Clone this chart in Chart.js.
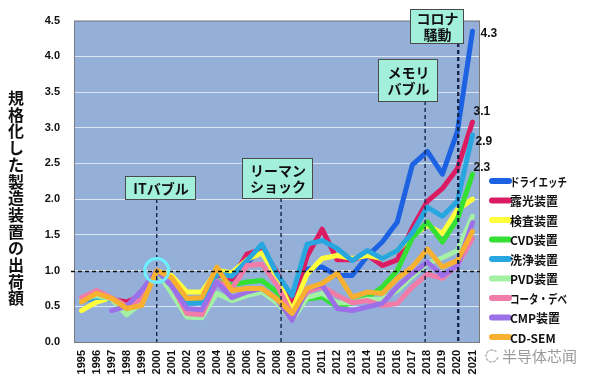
<!DOCTYPE html>
<html><head><meta charset="utf-8">
<script src="https://cdn.jsdelivr.net/npm/chart.js@4"></script>
<style>html,body{margin:0;padding:0;background:#fff}canvas{display:block}</style>
</head><body>
<canvas id="c" width="590" height="382"></canvas>
<script>
const years = ['1995','1996','1997','1998','1999','2000','2001','2002','2003','2004','2005','2006','2007','2008','2009','2010','2011','2012','2013','2014','2015','2016','2017','2018','2019','2020','2021'];
const dryEtch    = [0.58,0.62,0.60,0.50,0.62,1.00,0.82,0.57,0.58,0.95,0.88,1.10,1.32,0.95,0.50,1.02,1.05,0.93,0.93,1.20,1.40,1.68,2.48,2.67,2.35,2.95,4.35];
const exposure   = [0.60,0.66,0.60,0.56,0.65,1.00,0.85,0.60,0.60,0.95,0.88,1.23,1.30,0.98,0.50,1.20,1.58,1.15,1.15,1.22,1.07,1.15,1.60,1.97,2.15,2.43,3.08];
const inspection = [0.44,0.56,0.62,0.50,0.60,1.00,0.93,0.70,0.70,1.00,0.97,1.15,1.25,0.90,0.44,0.95,1.17,1.21,1.17,1.21,1.17,1.28,1.49,1.63,1.52,1.85,2.00];
const cvd        = [0.60,0.65,0.62,0.45,0.60,1.00,0.80,0.57,0.55,0.85,0.80,0.84,0.86,0.70,0.38,0.60,0.63,0.49,0.55,0.62,0.77,1.00,1.46,1.68,1.40,1.72,2.35];
const cleaning   = [0.57,0.63,0.62,0.50,0.62,1.00,0.85,0.54,0.55,0.96,0.92,1.14,1.37,0.95,0.65,1.37,1.42,1.31,1.14,1.28,1.17,1.28,1.53,1.89,1.76,1.97,2.90];
const pvd        = [0.60,0.65,0.60,0.38,0.55,1.00,0.68,0.35,0.34,0.68,0.58,0.65,0.70,0.55,0.30,0.62,0.68,0.55,0.55,0.60,0.60,0.72,0.92,1.10,1.18,1.28,1.76];
const coater     = [0.62,0.72,0.62,0.50,0.60,1.00,0.80,0.40,0.38,0.85,0.75,1.07,1.09,0.80,0.38,0.70,0.78,0.65,0.55,0.58,0.51,0.54,0.77,0.95,0.89,1.08,1.45];
const cmp        = [null,null,0.44,0.50,0.72,1.00,0.78,0.47,0.45,0.84,0.62,0.70,0.75,0.60,0.30,0.75,0.80,0.47,0.44,0.49,0.54,0.77,0.96,1.12,0.93,1.07,1.67];
const cdsem      = [0.56,0.68,0.61,0.47,0.51,1.00,0.90,0.61,0.62,1.05,0.72,0.75,0.75,0.60,0.40,0.75,0.82,0.96,0.63,0.70,0.68,0.89,1.05,1.30,1.05,1.14,1.55];

const seriesNames  = ['ドライエッチ','露光装置','検査装置','CVD装置','洗浄装置','PVD装置','コータ・デベ','CMP装置','CD-SEM'];
const seriesValues = [dryEtch, exposure, inspection, cvd, cleaning, pvd, coater, cmp, cdsem];
const seriesColors = ['#1c62e2','#dc1c62','#ffff3c','#33e033','#28a6e0','#a4f0a4','#f27ca8','#9c70e8','#f8b030'];

const yAxisTitle = '規格化した製造装置の出荷額';
const endLabels = [{series:0, text:'4.3', dx:8, dy:2}, {series:1, text:'3.1', dx:1, dy:-10}, {series:4, text:'2.9', dx:3, dy:7}, {series:3, text:'2.3', dx:1, dy:-6}];
const events = [
  {lines:['ITバブル'], year:'2000', shift:0, box:[125,176,70,23], lw:1.4},
  {lines:['リーマン','ショック'], year:'2008', shift:0.27, box:[242,158,70,40], lw:1.4},
  {lines:['メモリ','バブル'], year:'2018', shift:-0.15, box:[378,59,59,42], lw:1.4},
  {lines:['コロナ','騒動'], year:'2020', shift:0.05, box:[410,9,53,34], lw:2.4}
];
const baseYear = '2000', baseValue = 1.0;
const watermark = '半导体芯闻';

const JP = '"Noto Sans CJK JP"';

const deco = {
  id: 'deco',
  beforeDraw(chart) {
    const {ctx, chartArea: a} = chart;
    ctx.save();
    ctx.fillStyle = '#fff';
    ctx.fillRect(0, 0, chart.width, chart.height);
    ctx.fillStyle = '#94b0d8';
    ctx.fillRect(a.left, a.top, a.right - a.left, a.bottom - a.top);
    ctx.restore();
  },
  beforeDatasetsDraw(chart) {
    const {ctx, chartArea: a} = chart;
    ctx.save();
    ctx.strokeStyle = '#7a7a7a';
    ctx.lineWidth = 1;
    ctx.strokeRect(a.left + 0.5, a.top + 0.5, a.right - a.left - 1, a.bottom - a.top);
    ctx.restore();
  },
  afterDatasetsDraw(chart) {
    const {ctx, chartArea: a, scales: {x, y}} = chart;
    ctx.save();
    // horizontal dashed line at base value
    const yb = Math.round(y.getPixelForValue(baseValue)) + 0.5;
    ctx.setLineDash([4, 3]);
    ctx.strokeStyle = '#111';
    ctx.lineWidth = 1.3;
    ctx.beginPath(); ctx.moveTo(a.left - 3, yb); ctx.lineTo(a.right, yb); ctx.stroke();
    // event lines and boxes
    events.forEach(ev => {
      const i = years.indexOf(ev.year) + ev.shift;
      const px = x.getPixelForValue(years.indexOf(ev.year)) + ev.shift * (x.getPixelForValue(1) - x.getPixelForValue(0));
      const [bx, by, bw, bh] = ev.box;
      ctx.setLineDash([4, 3]);
      ctx.strokeStyle = '#16264a';
      ctx.lineWidth = ev.lw;
      ctx.beginPath(); ctx.moveTo(px, by + bh); ctx.lineTo(px, a.bottom); ctx.stroke();
      ctx.setLineDash([]);
      ctx.fillStyle = '#a2f0dc';
      ctx.fillRect(bx, by, bw, bh);
      ctx.strokeStyle = '#4a4a4a';
      ctx.lineWidth = 1;
      ctx.strokeRect(bx + 0.5, by + 0.5, bw, bh);
      ctx.fillStyle = '#111';
      ctx.font = 'bold 14px ' + JP;
      ctx.textAlign = 'center';
      ctx.textBaseline = 'middle';
      const n = ev.lines.length;
      ev.lines.forEach((t, k) => {
        const ty = by + bh / 2 + (k - (n - 1) / 2) * 16 + 1;
        ctx.fillText(t, bx + bw / 2 + 1, ty, bw - 10);
      });
    });
    // circle at base point
    ctx.setLineDash([]);
    ctx.strokeStyle = '#6cf0ff';
    ctx.lineWidth = 3;
    ctx.beginPath();
    ctx.arc(x.getPixelForValue(years.indexOf(baseYear)), y.getPixelForValue(baseValue), 12, 0, Math.PI * 2);
    ctx.stroke();
    // end labels
    ctx.fillStyle = '#111';
    ctx.font = 'bold 12px "Liberation Sans"';
    ctx.textAlign = 'left';
    ctx.textBaseline = 'middle';
    endLabels.forEach(l => {
      const vals = seriesValues[l.series];
      const last = vals.length - 1;
      ctx.fillText(l.text, x.getPixelForValue(last) + l.dx, y.getPixelForValue(vals[last]) + l.dy);
    });
    ctx.restore();
  },
  afterDraw(chart) {
    const {ctx} = chart;
    ctx.save();
    // y axis title, stacked vertically
    ctx.fillStyle = '#111';
    ctx.font = 'bold 16px ' + JP;
    ctx.textAlign = 'center';
    ctx.textBaseline = 'middle';
    [...yAxisTitle].forEach((ch, k) => ctx.fillText(ch, 16, 98 + k * 16.7));
    // legend
    ctx.font = 'bold 12px ' + JP;
    ctx.textAlign = 'left';
    chart.data.datasets.forEach((ds, k) => {
      const ly = 181 + k * 19.5;
      ctx.strokeStyle = ds.borderColor;
      ctx.lineWidth = 6;
      ctx.lineCap = 'round';
      ctx.beginPath(); ctx.moveTo(492, ly); ctx.lineTo(509, ly); ctx.stroke();
      ctx.fillStyle = '#111';
      ctx.fillText(ds.label, 510, ly + 1, 57);
    });
    // watermark
    ctx.strokeStyle = '#b8b8b8';
    ctx.lineWidth = 1.5;
    ctx.setLineDash([2, 2]);
    ctx.beginPath(); ctx.arc(492, 356, 6, 0.3, Math.PI * 1.8); ctx.stroke();
    ctx.setLineDash([]);
    ctx.fillStyle = '#9a9a9a';
    ctx.font = '15px "Noto Sans CJK SC"';
    ctx.textBaseline = 'middle';
    ctx.fillText(watermark, 502, 356);
    ctx.restore();
  }
};

const datasets = seriesNames.map((name, k) => ({
  label: name,
  data: seriesValues[k],
  borderColor: seriesColors[k],
  backgroundColor: seriesColors[k],
  borderWidth: 5,
  pointRadius: 0,
  tension: 0,
  fill: false,
  spanGaps: false,
  borderJoinStyle: 'round',
  borderCapStyle: 'round',
  order: seriesNames.length - k
}));

new Chart(document.getElementById('c'), {
  type: 'line',
  data: {labels: years, datasets},
  options: {
    responsive: false,
    animation: false,
    devicePixelRatio: 1,
    layout: {padding: {top: 18, right: 110, bottom: 0, left: 0}},
    plugins: {legend: {display: false}, tooltip: {enabled: false}},
    scales: {
      x: {
        offset: true,
        grid: {display: false, drawTicks: false},
        border: {display: false},
        ticks: {
          autoSkip: false, maxRotation: 90, minRotation: 90, padding: 8,
          color: '#111', font: {family: '"Liberation Sans"', size: 11, weight: 'bold'}
        },
        afterFit(s) { s.height = 40; }
      },
      y: {
        min: 0, max: 4.5,
        grid: {color: '#dce6f2', lineWidth: 1, drawTicks: false},
        border: {display: false},
        ticks: {
          stepSize: 0.5, padding: 14,
          color: '#111', font: {family: '"Liberation Sans"', size: 11, weight: 'bold'},
          callback: v => Number(v).toFixed(1)
        },
        afterFit(s) { s.width = 74; }
      }
    }
  },
  plugins: [deco]
});
</script>
</body></html>
